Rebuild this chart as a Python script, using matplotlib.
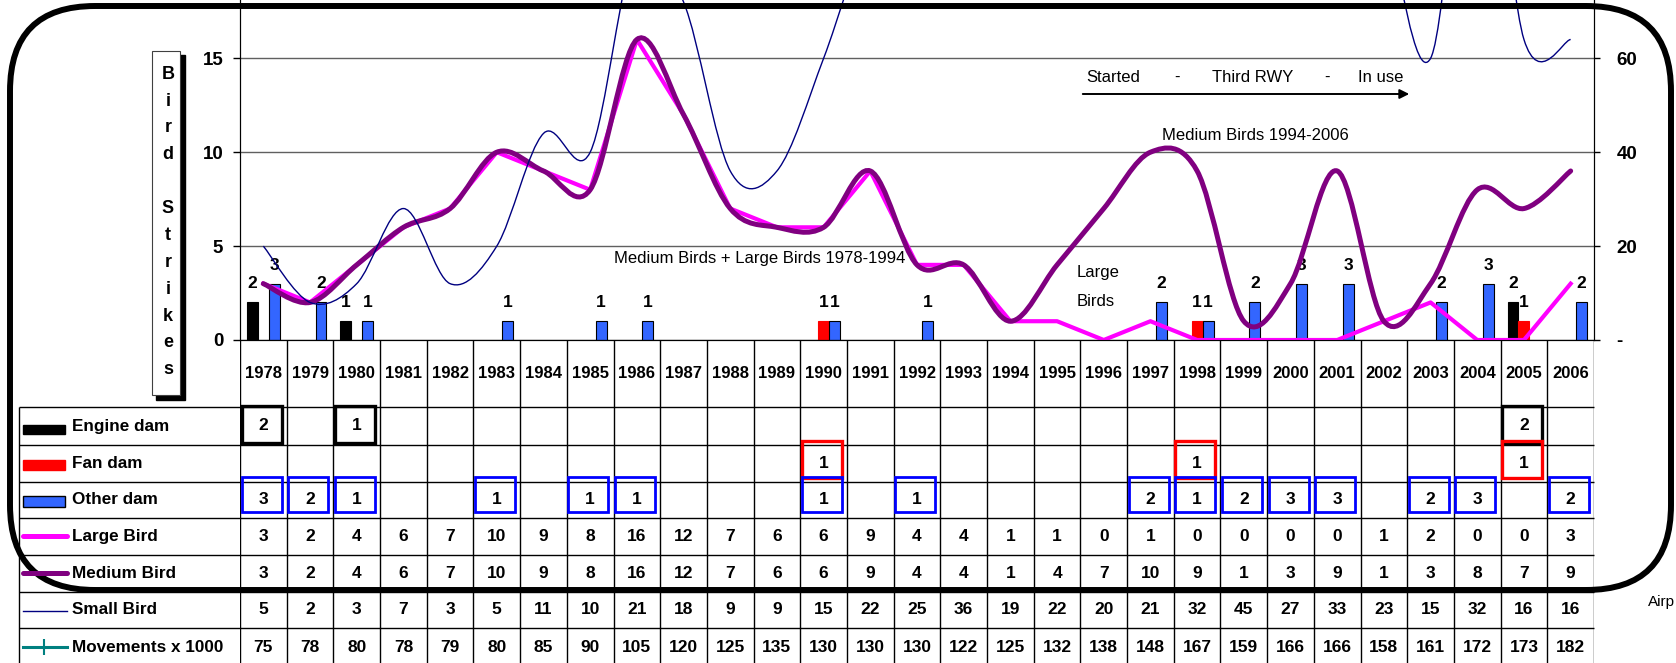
import matplotlib
matplotlib.use("Agg")
import matplotlib.pyplot as plt
from matplotlib.path import Path
from matplotlib.patches import PathPatch, FancyBboxPatch, Rectangle
import numpy as np

plt.rcParams['font.family'] = ['Liberation Sans', 'DejaVu Sans']

years = list(range(1978, 2007))
engine_dam = [2, 0, 1, 0, 0, 0, 0, 0, 0, 0, 0, 0, 0, 0, 0, 0, 0, 0, 0, 0, 0, 0, 0, 0, 0, 0, 0, 2, 0]
fan_dam = [0, 0, 0, 0, 0, 0, 0, 0, 0, 0, 0, 0, 1, 0, 0, 0, 0, 0, 0, 0, 1, 0, 0, 0, 0, 0, 0, 1, 0]
other_dam = [3, 2, 1, 0, 0, 1, 0, 1, 1, 0, 0, 0, 1, 0, 1, 0, 0, 0, 0, 2, 1, 2, 3, 3, 0, 2, 3, 0, 2]
large_bird = [3, 2, 4, 6, 7, 10, 9, 8, 16, 12, 7, 6, 6, 9, 4, 4, 1, 1, 0, 1, 0, 0, 0, 0, 1, 2, 0, 0, 3]
medium_bird = [3, 2, 4, 6, 7, 10, 9, 8, 16, 12, 7, 6, 6, 9, 4, 4, 1, 4, 7, 10, 9, 1, 3, 9, 1, 3, 8, 7, 9]
small_bird = [5, 2, 3, 7, 3, 5, 11, 10, 21, 18, 9, 9, 15, 22, 25, 36, 19, 22, 20, 21, 32, 45, 27, 33, 23, 15, 32, 16, 16]
movements = [75, 78, 80, 78, 79, 80, 85, 90, 105, 120, 125, 135, 130, 130, 130, 122, 125, 132, 138, 148,
             167, 159, 166, 166, 158, 161, 172, 173, 182]

W, H = 1676, 663
LEFT, RIGHT, XAXIS = 240, 1594, 340
SLOT = (RIGHT - LEFT) / len(years)


def px_box(l, t, r, b):
    return [l / W, 1 - b / H, (r - l) / W, (b - t) / H]


def smooth_path(xs, ys):
    # excel-like smoothed line: catmull-rom as cubic bezier
    pts = np.column_stack([xs, ys]).astype(float)
    p = np.vstack([pts[0], pts, pts[-1]])
    verts = [pts[0]]
    codes = [Path.MOVETO]
    for i in range(1, len(pts)):
        p0, p1, p2, p3 = p[i - 1], p[i], p[i + 1], p[i + 2]
        verts += [p1 + (p2 - p0) / 6, p2 - (p3 - p1) / 6, p2]
        codes += [Path.CURVE4] * 3
    return Path(verts, codes)


fig = plt.figure(figsize=(W / 100, H / 100), dpi=100)

# ---- chart
ax = fig.add_axes(px_box(LEFT, 0, RIGHT, XAXIS))
n = len(years)
x = np.arange(n)
ytop = 15 * XAXIS / (XAXIS - 58.3)
ax.set_xlim(-0.5, n - 0.5)
ax.set_ylim(0, ytop)

bw = 0.235
bars = [(engine_dam, -bw, 'black', 'black'),
        (fan_dam, 0.0, '#ff0000', '#ff0000'),
        (other_dam, bw, '#3366ff', 'black')]
for vals, off, col, ec in bars:
    idx = [i for i, v in enumerate(vals) if v]
    b = ax.bar(x[idx] + off, [vals[i] for i in idx], width=bw, color=col,
               edgecolor=ec, linewidth=0.8, zorder=2)
    ax.bar_label(b, padding=8, fontsize=12.5, fontweight='bold')

ax.plot(x, large_bird, color='#ff00ff', lw=3.0, zorder=3, solid_joinstyle='round')
ax.add_patch(PathPatch(smooth_path(x, medium_bird), fill=False, edgecolor='#800080',
                       lw=3.6, zorder=4, capstyle='round'))
ax.add_patch(PathPatch(smooth_path(x, small_bird), fill=False, edgecolor='#000080',
                       lw=1.0, zorder=5))

ax.set_xticks([])
ax.set_yticks([0, 5, 10, 15])
ax.yaxis.grid(True, color='#606060', lw=1)
ax.set_axisbelow(True)
ax.tick_params(axis='y', direction='out', length=5, width=1, pad=7, labelsize=13.5)
for lab in ax.get_yticklabels():
    lab.set_fontweight('bold')
for s in ['left', 'right', 'bottom']:
    ax.spines[s].set_color('black')
ax.spines['top'].set_visible(False)

ax2 = ax.twinx()
ax2.set_ylim(0, 4 * ytop)
ax2.plot(x, movements, color='#008080', lw=2, marker='|', ms=10)
ax2.set_yticks([0, 20, 40, 60])
ax2.set_yticklabels(['-', '20', '40', '60'], fontweight='bold')
ax2.tick_params(axis='y', direction='out', length=4.3, width=1, pad=12, labelsize=13.5)
ax2.spines['top'].set_visible(False)
ax2.set_xticks([])

# ---- data table below the chart
tax = fig.add_axes(px_box(LEFT, XAXIS, RIGHT, H))
tax.set_xlim(-0.5, n - 0.5)
tax.set_ylim(H, XAXIS)
tax.axis('off')
row_edges = [340, 407, 445, 482, 518, 555, 592, 628, 665]
xl = (19 - LEFT) / SLOT - 0.5
tax.vlines(np.arange(n + 1) - 0.5, XAXIS, H, color='black', lw=1)
tax.hlines(row_edges[1:], xl, n - 0.5, color='black', lw=1, clip_on=False)
tax.vlines([xl], row_edges[1], H, color='black', lw=1, clip_on=False)

ctr = [(a + b) / 2 for a, b in zip(row_edges[:-1], row_edges[1:])]
ctr[-1] = 647
fs = 12.5
for i, yr in enumerate(years):
    tax.text(i, 373, str(yr), ha='center', va='center', fontsize=12, fontweight='bold')

box_rows = [(engine_dam, 1, 'black', 2.4, -1, 37),
            (fan_dam, 2, '#ff0000', 2.4, -4, 37),
            (other_dam, 3, '#0000ff', 2.0, -5, 35)]
for vals, r, col, lw, dy, hgt in box_rows:
    for i, v in enumerate(vals):
        if v:
            tax.add_patch(Rectangle((i - 0.5 + 1.5 / SLOT, row_edges[r] + dy), 40 / SLOT, hgt,
                                    fill=False, edgecolor=col, lw=lw, zorder=3))
            tax.text(i, ctr[r], str(v), ha='center', va='center', fontsize=fs,
                     fontweight='bold', zorder=4)

for r, vals in [(4, large_bird), (5, medium_bird), (6, small_bird), (7, movements)]:
    for i, v in enumerate(vals):
        tax.text(i, ctr[r], str(v), ha='center', va='center', fontsize=fs,
                 fontweight='bold', clip_on=False)

# ---- overlay in pixel units: legend column, frame, notes
ov = fig.add_axes([0, 0, 1, 1])
ov.set_xlim(0, W)
ov.set_ylim(H, 0)
ov.axis('off')
ov.set_zorder(10)

row_labels = ['Engine dam', 'Fan dam', 'Other dam', 'Large Bird', 'Medium Bird',
              'Small Bird', 'Movements x 1000']
for k, lab in enumerate(row_labels):
    ov.text(72, ctr[k + 1], lab, ha='left', va='center', fontsize=12.3, fontweight='bold')
ov.add_patch(Rectangle((23, 425), 42, 9, color='black'))
ov.add_patch(Rectangle((23, 460), 42, 10, color='#ff0000'))
ov.add_patch(Rectangle((23, 496), 42, 11, facecolor='#3366ff', edgecolor='black', lw=1))
ov.plot([23, 67], [536, 536], color='#ff00ff', lw=3.6, solid_capstyle='round')
ov.plot([23, 67], [573, 573], color='#800080', lw=3.6, solid_capstyle='round')
ov.plot([23, 67], [611, 611], color='#000080', lw=1)
ov.plot([23, 67], [647, 647], color='#008080', lw=2.2)
ov.plot([44], [647], color='#008080', marker='|', ms=11, mew=1.5)

# "Bird Strikes" axis title box with shadow
ov.add_patch(Rectangle((156, 55), 29, 345, color='black'))
ov.add_patch(Rectangle((152, 51), 28, 344, facecolor='white', edgecolor='#404040', lw=0.8))
ov.text(168, 222, '\n'.join('Bird Strikes'), ha='center', va='center', fontsize=13,
        fontweight='bold', linespacing=1.76)

# notes
ov.text(760, 259, 'Medium Birds + Large Birds 1978-1994', ha='center', va='center', fontsize=12)
ov.text(1255, 135, 'Medium Birds 1994-2006', ha='center', va='center', fontsize=12)
ov.text(1086, 77, 'Started', ha='left', va='center', fontsize=12)
ov.text(1177, 77, '-', ha='center', va='center', fontsize=12)
ov.text(1253, 77, 'Third RWY', ha='center', va='center', fontsize=12)
ov.text(1327, 77, '-', ha='center', va='center', fontsize=12)
ov.text(1403, 77, 'In use', ha='right', va='center', fontsize=12)
ov.annotate('', xy=(1412, 94), xytext=(1080, 94),
            arrowprops=dict(arrowstyle='-|>', color='black', lw=1.4, mutation_scale=14))
ov.text(1077, 272, 'Large', ha='left', va='center', fontsize=12)
ov.text(1077, 302, 'Birds', ha='left', va='center', fontsize=12)
ov.text(1648, 602, 'Airp', ha='left', va='center', fontsize=11)

# rounded frame
ov.add_patch(FancyBboxPatch((10, 6), 1661, 584, boxstyle='round,pad=0,rounding_size=85',
                            fill=False, edgecolor='black', lw=4.3))

fig.savefig('out.png', dpi=100)
